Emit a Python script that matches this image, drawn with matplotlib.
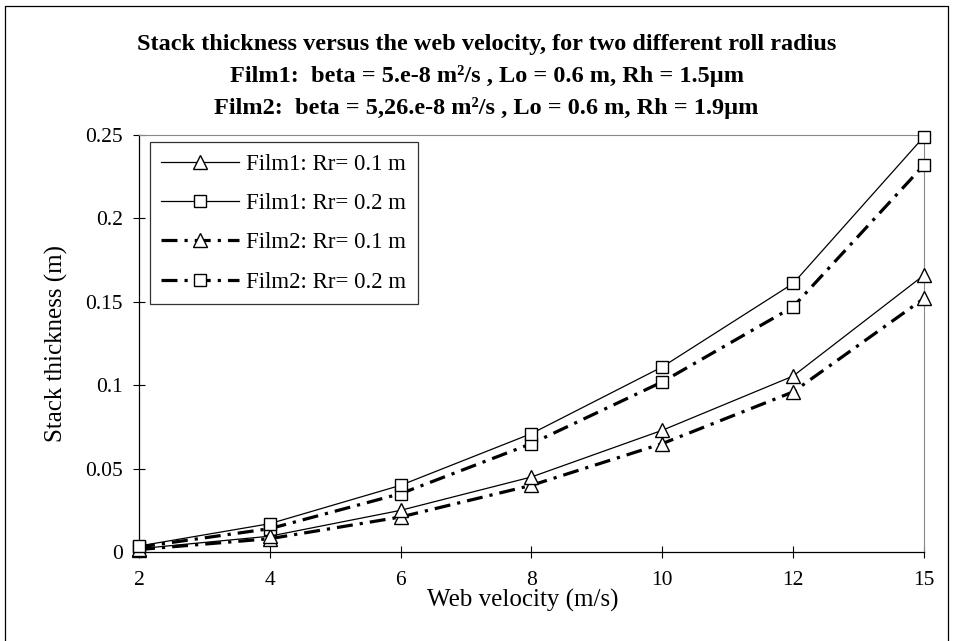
import numpy as np
import matplotlib
matplotlib.use("Agg")
import matplotlib.pyplot as plt
from matplotlib.lines import Line2D

plt.rcParams['font.family'] = ['Liberation Serif', 'DejaVu Serif']

# data
velocity = ['2', '4', '6', '8', '10', '12', '15']
film1_r01 = [0.002, 0.0095, 0.025, 0.045, 0.073, 0.1055, 0.166]
film1_r02 = [0.0036, 0.017, 0.040, 0.071, 0.111, 0.161, 0.249]
film2_r01 = [0.0015, 0.008, 0.021, 0.040, 0.065, 0.096, 0.152]
film2_r02 = [0.003, 0.014, 0.035, 0.065, 0.102, 0.147, 0.232]

title = ("Stack thickness versus the web velocity, for two different roll radius\n"
         "Film1:  beta = 5.e-8 m\u00b2/s , Lo = 0.6 m, Rh = 1.5\u00b5m\n"
         "Film2:  beta = 5,26.e-8 m\u00b2/s , Lo = 0.6 m, Rh = 1.9\u00b5m")

fig = plt.figure(figsize=(9.56, 6.41), dpi=100)
ax = fig.add_axes([0.1454, 0.1388, 0.8211, 0.6506])

x = np.arange(len(velocity))
dashdot = (0, (5, 2.2, 1, 2.2))
mk = dict(markerfacecolor='white', markeredgecolor='black', clip_on=False)

ax.plot(x, film1_r01, color='black', lw=0.9, marker='^', markersize=9.5,
        markeredgewidth=1.0, label='Film1: Rr= 0.1 m', zorder=4, **mk)
ax.plot(x, film1_r02, color='black', lw=0.9, marker='s', markersize=8.5,
        markeredgewidth=1.0, label='Film1: Rr= 0.2 m', zorder=4, **mk)
ax.plot(x, film2_r01, color='black', lw=2.3, linestyle=dashdot, marker='^',
        markersize=9.5, markeredgewidth=1.0, label='Film2: Rr= 0.1 m', zorder=3, **mk)
ax.plot(x, film2_r02, color='black', lw=2.3, linestyle=dashdot, marker='s',
        markersize=8.5, markeredgewidth=1.0, label='Film2: Rr= 0.2 m', zorder=3, **mk)

ax.set_xlim(0, len(velocity) - 1)
ax.set_ylim(0, 0.25)
ax.set_xticks(x)
ax.set_xticklabels(velocity)
ax.set_yticks([0, 0.05, 0.1, 0.15, 0.2, 0.25])
ax.set_yticklabels(['0', '0.05', '0.1', '0.15', '0.2', '0.25'])
ax.tick_params(axis='both', direction='inout', length=9, width=0.8, labelsize=15.5)
ax.tick_params(axis='x', pad=9)
ax.tick_params(axis='y', pad=7)

for s in ['top', 'right']:
    ax.spines[s].set_color('#888888')
    ax.spines[s].set_linewidth(0.8)
for s in ['left', 'bottom']:
    ax.spines[s].set_linewidth(0.9)

ax.set_ylabel('Stack thickness (m)', fontsize=18)
ax.yaxis.set_label_coords(-0.091, 0.5)
ax.set_xlabel('Web velocity (m/s)', fontsize=18, va='top')
ax.xaxis.set_label_coords(0.489, -0.088)

leg = ax.legend(loc='upper left', bbox_to_anchor=(0.014, 0.983), fontsize=16.5,
                frameon=True, fancybox=False, edgecolor='black', handlelength=3.4,
                handletextpad=0.3, labelspacing=0.8, borderpad=0.5,
                borderaxespad=0)
leg.get_frame().set_linewidth(0.9)

fig.text(0.509, 0.947, title, ha='center', va='top', fontsize=17.5,
         fontweight='bold', linespacing=1.6)

# outer chart border
fig.add_artist(Line2D([0.005, 0.005, 0.992, 0.992], [0.0, 0.991, 0.991, 0.0],
                      transform=fig.transFigure, color='black', lw=0.9))

fig.savefig('out.png', dpi=100)
